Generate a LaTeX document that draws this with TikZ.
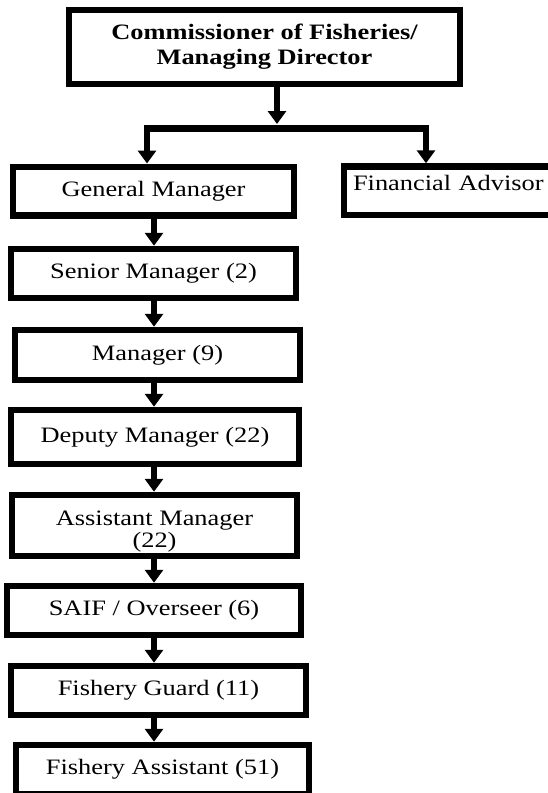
\documentclass[tikz,border=0pt]{standalone}
\usepackage{fontspec}
\setmainfont[FakeStretch=1.2]{Liberation Serif}
\usepackage{tikz}
\usetikzlibrary{arrows.meta}

\begin{document}
\begin{tikzpicture}[x=1pt,y=-1pt]
	\useasboundingbox (0,0) rectangle (548,793);
	\clip (0,0) rectangle (548,793);
	\fill[white] (0,0) rectangle (548,793);
	\begin{scope}[every node/.style={rectangle,draw,line width=6.5pt,inner sep=0pt,
	              minimum height=49pt,font=\fontsize{22}{25}\selectfont}]
		\node[minimum width=391pt,minimum height=74pt,align=center,
		      font=\fontsize{22}{25}\selectfont\bfseries] (CF) at (264.5,47) {Commissioner of Fisheries/\\Managing Director};
		\node[minimum width=281pt,minimum height=48.5pt] (GM) at (153.5,191) {General Manager};
		\node[minimum width=226pt,minimum height=48.5pt,text width=208pt,
		      inner xsep=9pt,align=left] (FA) at (457,190.75) {\smash{Financial Advisor}};
		\node[minimum width=285pt] (SM) at (153.5,273.5) {Senior Manager (2)};
		\node[minimum width=285pt,minimum height=50pt] (MG) at (157.5,355) {Manager (9)};
		\node[minimum width=288pt,minimum height=54pt] (DM) at (155,437) {Deputy Manager (22)};
		\node[minimum width=285pt,minimum height=61pt] (AM) at (154.5,525.5)
		     {\smash{\raisebox{-22pt}{\begin{tabular}[b]{@{}c@{}}Assistant Manager\\[-3pt](22)\end{tabular}}}};
		\node[minimum width=294pt] (SO) at (154,610.5) {SAIF / Overseer (6)};
		\node[minimum width=295pt] (FG) at (158.5,690.5) {Fishery Guard (11)};
		\node[minimum width=293pt] (FAS) at (162.5,769.5) {Fishery Assistant (51)};
	\end{scope}

	\coordinate (drop) at (277,124);
	\coordinate (barL) at (147,128.5);
	\coordinate (barR) at (426,128.5);
	\coordinate (spine) at (154,0);

	\begin{scope}[>={Triangle[width=18pt,length=13pt]},
	              every path/.style={line width=6.5pt,->}]
		\draw (drop |- CF.south) -- (drop);
		\draw (barR) -- (barL) -- (barL |- GM.north);
		\draw (barL) -- (barR) -- (barR |- FA.north);
		\draw (spine |- GM.south) -- (spine |- SM.north);
		\draw (spine |- SM.south) -- (spine |- MG.north);
		\draw (spine |- MG.south) -- (spine |- DM.north);
		\draw (spine |- DM.south) -- (spine |- AM.north);
		\draw (spine |- AM.south) -- (spine |- SO.north);
		\draw (spine |- SO.south) -- (spine |- FG.north);
		\draw (spine |- FG.south) -- (spine |- FAS.north);
	\end{scope}
\end{tikzpicture}
\end{document}
